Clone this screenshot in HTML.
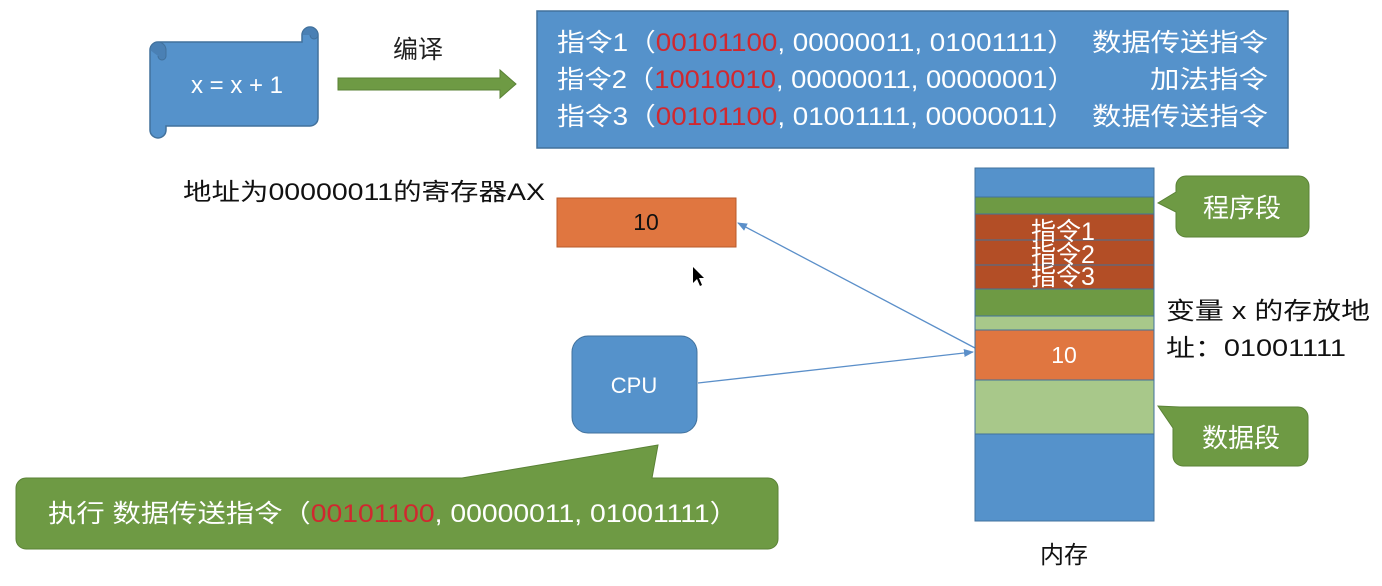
<!DOCTYPE html>
<html><head><meta charset="utf-8"><style>
body{margin:0;background:#fff;}
svg text{font-family:"Liberation Sans","Noto Sans CJK SC",sans-serif;}
</style></head><body>
<svg width="1382" height="581" viewBox="0 0 1382 581" xmlns="http://www.w3.org/2000/svg">
<defs><marker id="ar" markerWidth="10" markerHeight="8" refX="9" refY="4" orient="auto" markerUnits="userSpaceOnUse"><path d="M0,0 L10,4 L0,8 Z" fill="#5b8fc9"/></marker></defs>
<!-- scroll -->
<path d="M163,42 H302 V35 a8,8 0 0 1 16,0 V118 a8,8 0 0 1 -8,8 H166 V130 a8,8 0 0 1 -16,0 V50 a8,8 0 0 1 8,-8 Z" fill="#5592cb" stroke="#41719c" stroke-width="1.5"/>
<path d="M150,50 a8,8 0 0 1 16,0 v6 a4,4 0 0 1 -8,0" fill="#4a80b4" stroke="#41719c"/>
<path d="M302,35 a8,8 0 0 1 16,0 a4,4 0 0 1 -8,0" fill="#4a80b4" stroke="#41719c"/>
<text x="237" y="93" font-size="24" fill="#fff" text-anchor="middle">x = x + 1</text>
<!-- arrow -->
<text x="418" y="58" font-size="25" fill="#222" text-anchor="middle">编译</text>
<path d="M338,78 H500 V70 L516,84 L500,98 V90 H338 Z" fill="#6e9a44" stroke="#5a8236"/>
<!-- instruction box -->
<rect x="537" y="11" width="751" height="137" fill="#5592cb" stroke="#41719c" stroke-width="1.5"/>
<g font-size="25" fill="#fff">
<text x="557" y="51" textLength="518" lengthAdjust="spacingAndGlyphs">指令1（<tspan fill="#d0282f">00101100</tspan>, 00000011, 01001111）</text>
<text x="1092" y="51" textLength="176" lengthAdjust="spacingAndGlyphs">数据传送指令</text>
<text x="557" y="88" textLength="518" lengthAdjust="spacingAndGlyphs">指令2（<tspan fill="#d0282f">10010010</tspan>, 00000011, 00000001）</text>
<text x="1150" y="88" textLength="118" lengthAdjust="spacingAndGlyphs">加法指令</text>
<text x="557" y="125" textLength="518" lengthAdjust="spacingAndGlyphs">指令3（<tspan fill="#d0282f">00101100</tspan>, 01001111, 00000011）</text>
<text x="1092" y="125" textLength="176" lengthAdjust="spacingAndGlyphs">数据传送指令</text>
</g>
<!-- register -->
<text x="183" y="200" font-size="24" fill="#111" textLength="362" lengthAdjust="spacingAndGlyphs">地址为00000011的寄存器AX</text>
<rect x="557" y="198" width="179" height="49" fill="#e07640" stroke="#b85a2a"/>
<text x="646" y="230" font-size="23" fill="#111" text-anchor="middle">10</text>
<path d="M693,267 l0,16 l4,-4 l3,7 l2,-1 l-3,-7 l5,0 Z" fill="#000"/>
<!-- CPU -->
<rect x="572" y="336" width="125" height="97" rx="16" fill="#5592cb" stroke="#41719c"/>
<text x="634" y="393" font-size="22" fill="#fff" text-anchor="middle">CPU</text>
<!-- connectors -->
<line x1="698" y1="383" x2="973" y2="352" stroke="#5b8fc9" stroke-width="1.3" marker-end="url(#ar)"/>
<line x1="975" y1="348" x2="738" y2="223" stroke="#5b8fc9" stroke-width="1.3" marker-end="url(#ar)"/>
<!-- bottom callout -->
<path d="M26,478 H462 L658,445 L652,478 H768 a10,10 0 0 1 10,10 V539 a10,10 0 0 1 -10,10 H26 a10,10 0 0 1 -10,-10 V488 a10,10 0 0 1 10,-10 Z" fill="#6e9a44" stroke="#5a8236"/>
<text x="48" y="522" font-size="25" fill="#fff" textLength="690" lengthAdjust="spacingAndGlyphs">执行 数据传送指令（<tspan fill="#d0282f">00101100</tspan>, 00000011, 01001111）</text>
<!-- memory -->
<g stroke="#41719c" stroke-width="1">
<rect x="975" y="168" width="179" height="29" fill="#5592cb"/>
<rect x="975" y="197" width="179" height="17" fill="#6e9a44"/>
<rect x="975" y="214" width="179" height="26" fill="#b34e26"/>
<rect x="975" y="240" width="179" height="25" fill="#b34e26"/>
<rect x="975" y="265" width="179" height="24" fill="#b34e26"/>
<rect x="975" y="289" width="179" height="27" fill="#6e9a44"/>
<rect x="975" y="316" width="179" height="14" fill="#a8c88a"/>
<rect x="975" y="330" width="179" height="50" fill="#e07640"/>
<rect x="975" y="380" width="179" height="54" fill="#a8c88a"/>
<rect x="975" y="434" width="179" height="87" fill="#5592cb"/>
</g>
<g font-size="25" fill="#fff" text-anchor="middle">
<text x="1063" y="240">指令1</text>
<text x="1063" y="263">指令2</text>
<text x="1063" y="285">指令3</text>
<text x="1064" y="363" font-size="23">10</text>
</g>
<text x="1064" y="563" font-size="24" fill="#111" text-anchor="middle">内存</text>
<text x="1166" y="319" font-size="24" fill="#111" textLength="204" lengthAdjust="spacingAndGlyphs">变量 x 的存放地</text>
<text x="1166" y="356" font-size="24" fill="#111" textLength="180" lengthAdjust="spacingAndGlyphs">址：01001111</text>
<!-- callouts -->
<path d="M1186,176 H1299 a10,10 0 0 1 10,10 V227 a10,10 0 0 1 -10,10 H1186 a10,10 0 0 1 -10,-10 V212 L1158,203 L1176,192 V186 a10,10 0 0 1 10,-10 Z" fill="#6e9a44" stroke="#5a8236"/>
<text x="1242" y="217" font-size="26" fill="#fff" text-anchor="middle">程序段</text>
<path d="M1183,407 H1298 a10,10 0 0 1 10,10 V456 a10,10 0 0 1 -10,10 H1183 a10,10 0 0 1 -10,-10 V428 L1158,406 L1180,407 Z" fill="#6e9a44" stroke="#5a8236"/>
<text x="1241" y="447" font-size="26" fill="#fff" text-anchor="middle">数据段</text>
</svg>
</body></html>
